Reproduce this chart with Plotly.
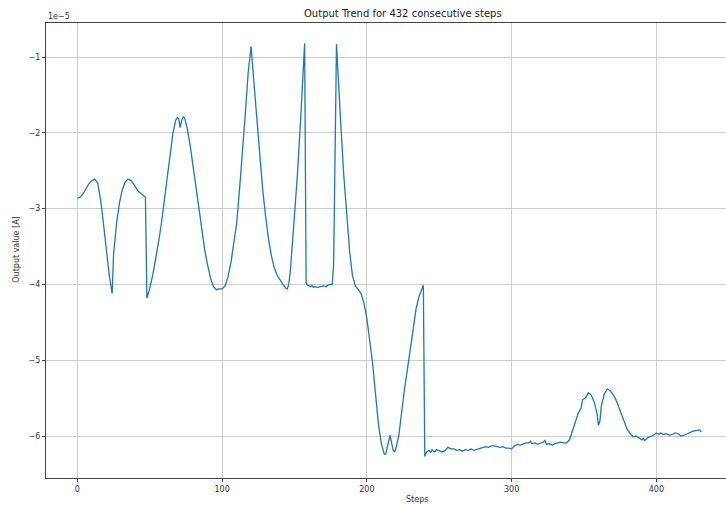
import plotly.graph_objects as go

SCALE = 1e-5
TITLE = "Output Trend for 432 consecutive steps"

steps = [0, 2, 4, 6, 8, 10, 12, 14, 16, 18, 20, 22, 24, 25, 27, 29, 31, 33, 35, 37, 39, 41, 42, 44, 46, 47,
         48, 50, 52, 54, 56, 58, 60, 62, 64, 66, 68, 69, 70, 71, 72, 73, 74, 76, 78, 80, 82, 84, 86, 88, 90,
         92, 94, 96, 98, 100, 102, 104, 106, 108, 110, 112, 114, 116, 118, 120, 122, 124, 126, 128, 130, 132,
         134, 136, 138, 140, 142, 144, 145, 146, 147, 148, 150, 152, 154, 156, 157, 158, 159, 160, 161, 162,
         163, 164, 166, 168, 170, 172, 173, 175, 176, 177, 178, 179, 180, 181, 182, 184, 186, 188, 190, 192,
         194, 196, 198, 200, 202, 204, 206, 208, 210, 212, 213, 214, 215, 216, 217, 218, 219, 220, 222, 224,
         226, 228, 230, 232, 234, 236, 238, 239, 240, 241, 242, 243, 244, 245, 246, 247, 248, 250, 252, 254,
         256, 258, 260, 262, 264, 266, 268, 270, 272, 274, 276, 278, 280, 282, 284, 286, 288, 290, 292, 294,
         296, 298, 300, 302, 304, 306, 308, 310, 312, 313, 314, 316, 318, 320, 322, 323, 324, 326, 328, 330,
         332, 334, 336, 338, 340, 342, 344, 346, 348, 349, 351, 353, 355, 357, 359, 360, 361, 362, 364, 366,
         368, 370, 372, 374, 376, 378, 380, 382, 384, 386, 388, 390, 391, 392, 394, 396, 398, 400, 402, 403,
         405, 407, 409, 411, 413, 415, 417, 419, 421, 423, 425, 427, 429, 430, 431]

output_e5 = [-2.86, -2.85, -2.80, -2.73, -2.67, -2.63, -2.61, -2.66, -2.88, -3.20, -3.55, -3.88, -4.12, -3.60,
             -3.20, -2.93, -2.75, -2.65, -2.61, -2.63, -2.68, -2.73, -2.77, -2.80, -2.84, -2.85,
             -4.18, -4.05, -3.88, -3.68, -3.45, -3.20, -2.90, -2.58, -2.28, -2.00, -1.83, -1.80, -1.82, -1.93,
             -1.84, -1.79, -1.80, -1.95, -2.18, -2.45, -2.75, -3.03, -3.28, -3.55, -3.75,
             -3.92, -4.03, -4.07, -4.06, -4.06, -4.02, -3.90, -3.72, -3.45, -3.20, -2.75, -2.30, -1.75, -1.20,
             -0.86, -1.35, -1.85, -2.30, -2.75, -3.10, -3.40,
             -3.62, -3.78, -3.88, -3.95, -4.00, -4.05, -4.06, -4.00, -3.85, -3.60, -3.10, -2.55, -1.90, -1.15,
             -0.82, -3.98, -4.01, -4.02, -4.03, -4.01,
             -4.04, -4.03, -4.04, -4.03, -4.02, -4.03, -4.01, -4.00, -4.00, -3.75, -2.30, -0.83, -1.20, -1.60,
             -1.90, -2.55, -3.06, -3.55, -3.88, -4.02,
             -4.07, -4.12, -4.25, -4.45, -4.75, -5.05, -5.45, -5.85, -6.10, -6.24, -6.24, -6.15, -6.05, -5.99,
             -6.08, -6.18, -6.21, -6.17, -6.00, -5.65,
             -5.38, -5.12, -4.85, -4.55, -4.32, -4.16, -4.06, -4.01, -6.27, -6.22, -6.20, -6.19, -6.22, -6.18,
             -6.20, -6.21, -6.18, -6.20, -6.21, -6.19,
             -6.15, -6.17, -6.17, -6.19, -6.18, -6.20, -6.18, -6.19, -6.17, -6.19, -6.18, -6.17, -6.15, -6.14,
             -6.15, -6.13, -6.13, -6.14, -6.15, -6.14,
             -6.16, -6.16, -6.17, -6.13, -6.11, -6.12, -6.10, -6.09, -6.09, -6.07, -6.10, -6.09, -6.11, -6.10,
             -6.08, -6.06, -6.11, -6.10, -6.12, -6.10,
             -6.09, -6.08, -6.09, -6.09, -6.05, -5.93, -5.80, -5.70, -5.63, -5.52, -5.50, -5.43, -5.46, -5.55,
             -5.70, -5.86, -5.80, -5.60, -5.45, -5.38,
             -5.40, -5.45, -5.52, -5.62, -5.74, -5.84, -5.92, -5.97, -6.01, -6.00, -6.02, -6.05, -6.03, -6.06,
             -6.02, -6.01, -5.99, -5.96, -5.98, -5.96,
             -5.98, -5.97, -5.99, -5.98, -5.96, -5.97, -6.00, -5.99, -5.97, -5.96, -5.94, -5.93, -5.93, -5.92,
             -5.95]

x_ticks = [0, 100, 200, 300, 400]
y_ticks_e5 = [-1, -2, -3, -4, -5, -6]
y_tick_labels = ["\u22121", "\u22122", "\u22123", "\u22124", "\u22125", "\u22126"]

values = [v * SCALE for v in output_e5]

FONT = "DejaVu Sans"
TXT = "#333333"

fig = go.Figure()
fig.add_trace(go.Scatter(x=steps, y=values, mode="lines",
                         line=dict(color="#1f77b4", width=1.3), showlegend=False))

fig.update_layout(
    width=726, height=507,
    margin=dict(l=46, r=0, t=23, b=29),
    paper_bgcolor="white", plot_bgcolor="white",
    font=dict(family=FONT, size=8, color=TXT),
    xaxis=dict(range=[-21.7, 448.1], tickvals=x_ticks, showgrid=True, gridcolor="#cccccc", gridwidth=1,
               zeroline=False, showline=True, linecolor="#444444", linewidth=1, mirror=True,
               ticks="outside", ticklen=3, tickcolor="#444444", tickfont=dict(size=8, color=TXT)),
    yaxis=dict(range=[-6.554 * SCALE, -0.551 * SCALE], tickvals=[v * SCALE for v in y_ticks_e5],
               ticktext=y_tick_labels, showgrid=True, gridcolor="#cccccc", gridwidth=1,
               zeroline=False, showline=True, linecolor="#444444", linewidth=1, mirror=False,
               ticks="outside", ticklen=3, tickcolor="#444444", tickfont=dict(size=8, color=TXT)),
)

fig.add_annotation(text=TITLE, xref="paper", yref="paper", x=0.525, y=1.0204,
                   xanchor="center", yanchor="middle", showarrow=False,
                   font=dict(family=FONT, size=10, color="#222222"))
fig.add_annotation(text="Steps", xref="paper", yref="paper", x=0.5456, y=-0.0477,
                   xanchor="center", yanchor="middle", showarrow=False,
                   font=dict(family=FONT, size=8, color=TXT))
fig.add_annotation(text="Output value [A]", xref="paper", yref="paper", x=(17 - 46) / 680, y=(478.3 - 250) / 455,
                   xanchor="center", yanchor="middle", textangle=-90, showarrow=False,
                   font=dict(family=FONT, size=8, color=TXT))
fig.add_annotation(text="1e\u22125", xref="paper", yref="paper", x=0, y=1.0138,
                   xanchor="left", yanchor="middle", showarrow=False,
                   font=dict(family=FONT, size=8, color=TXT))

fig.write_html("out.html", config={"displayModeBar": False},
               post_script="document.body.style.margin='0';document.body.style.overflow='hidden';")
